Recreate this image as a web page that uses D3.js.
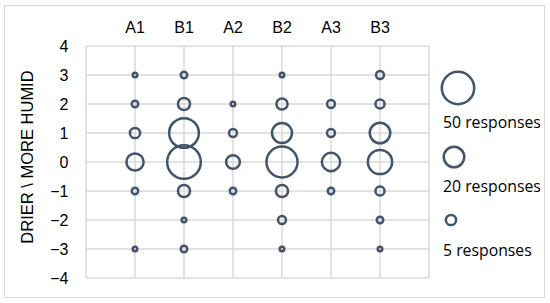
<!DOCTYPE html>
<html>
<head>
<meta charset="utf-8">
<script src="https://cdn.jsdelivr.net/npm/d3@7"></script>
<style>
  html, body { margin: 0; padding: 0; background: #ffffff; }
  svg { display: block; }
</style>
</head>
<body>
<svg id="chart" width="550" height="303"></svg>
<script>
// ---- data ----
const categories = ["A1", "B1", "A2", "B2", "A3", "B3"];
const yTicks = [-4, -3, -2, -1, 0, 1, 2, 3, 4];
// responses per category at each level (level -> count)
const levels = [3, 2, 1, 0, -1, -2, -3];
const responsesA1 = [1, 2, 5, 14, 2, 0, 1];
const responsesB1 = [2, 7, 42, 54, 7, 1, 2];
const responsesA2 = [0, 1, 3, 9, 2, 0, 0];
const responsesB2 = [1, 6, 19, 46, 7, 3, 1];
const responsesA3 = [0, 3, 3, 16, 2, 0, 0];
const responsesB3 = [3, 4, 20, 28, 4, 2, 1];
const seriesValues = [responsesA1, responsesB1, responsesA2, responsesB2, responsesA3, responsesB3];
const legendValues = [50, 20, 5];
const legendLabels = ["50 responses", "20 responses", "5 responses"];
const yTitle = "DRIER \\ MORE HUMID";

// ---- layout ----
const svg = d3.select("#chart");
const color = "#44546a";
const gridColor = "#d9d9d9";
const plot = { left: 86, right: 429, top: 46, bottom: 278 };

const x = d3.scaleLinear().domain([0, categories.length + 1]).range([plot.left, plot.right]);
const y = d3.scaleLinear().domain([-4, 4]).range([plot.bottom, plot.top]);
const r = d3.scaleSqrt().domain([0, 50]).range([0, 16.2]);

// outer chart border
svg.append("rect")
  .attr("x", 4.5).attr("y", 5.5).attr("width", 540).attr("height", 292)
  .attr("fill", "#fff").attr("stroke", gridColor).attr("stroke-width", 1);

// gridlines
const g = svg.append("g");
g.selectAll("line.h").data(yTicks).join("line")
  .attr("x1", plot.left).attr("x2", plot.right)
  .attr("y1", d => y(d)).attr("y2", d => y(d))
  .attr("stroke", gridColor).attr("stroke-width", 1.5);
g.selectAll("line.v").data(d3.range(0, categories.length + 2)).join("line")
  .attr("y1", plot.top).attr("y2", plot.bottom)
  .attr("x1", d => x(d)).attr("x2", d => x(d))
  .attr("stroke", gridColor).attr("stroke-width", 1.5);

// y axis labels
const yAxis = d3.axisLeft(y).tickValues(yTicks).tickSize(0).tickPadding(0)
  .tickFormat(d => d < 0 ? "\u2212" + Math.abs(d) : String(d));
const ya = svg.append("g").attr("transform", `translate(${68.5},0)`).call(yAxis);
ya.select(".domain").remove();
ya.selectAll("text")
  .attr("font-family", "'Liberation Sans', Arial, sans-serif")
  .attr("font-size", 16).attr("fill", "#000").attr("dy", "0.35em");

// category labels (top)
svg.append("g").selectAll("text").data(categories).join("text")
  .attr("x", (d, i) => x(i + 1)).attr("y", 33)
  .attr("text-anchor", "middle")
  .attr("font-family", "'Liberation Sans', Arial, sans-serif")
  .attr("font-size", 16).attr("fill", "#000")
  .text(d => d);

// y title
svg.append("text")
  .attr("transform", `translate(33,157) rotate(-90)`)
  .attr("text-anchor", "middle")
  .attr("font-family", "'Liberation Sans', Arial, sans-serif")
  .attr("font-size", 16.5).attr("fill", "#000")
  .text(yTitle);

// bubbles
const points = [];
seriesValues.forEach((vals, ci) => {
  vals.forEach((v, li) => { if (v > 0) points.push({ c: ci, level: levels[li], n: v }); });
});
svg.append("g").selectAll("circle").data(points).join("circle")
  .attr("cx", d => x(d.c + 1)).attr("cy", d => y(d.level))
  .attr("r", d => r(d.n))
  .attr("fill", "none").attr("stroke", color).attr("stroke-width", 2.5);

// legend
const legY = [88, 157, 220];
const legX = [458, 454, 451];
const legTextY = [128, 192, 256];
const leg = svg.append("g");
leg.selectAll("circle").data(legendValues).join("circle")
  .attr("cx", (d, i) => legX[i]).attr("cy", (d, i) => legY[i])
  .attr("r", d => r(d))
  .attr("fill", "none").attr("stroke", color).attr("stroke-width", 2.5);
leg.selectAll("text").data(legendLabels).join("text")
  .attr("x", 443).attr("y", (d, i) => legTextY[i])
  .attr("font-family", "'Open Sans', 'Noto Sans', sans-serif")
  .attr("font-size", 15.8).attr("fill", "#000")
  .text(d => d);
</script>
</body>
</html>
